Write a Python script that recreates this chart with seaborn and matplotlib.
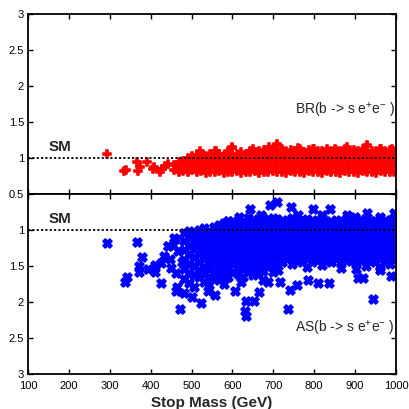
import pandas as pd
import matplotlib
matplotlib.use("Agg")
import matplotlib.pyplot as plt
import seaborn as sns

# SM reference value (ratio to SM)
sm_value = 1.0

# BR(b -> s e+ e-) / SM : isolated points at low stop mass
br_mass_sparse = [293, 335, 340, 366, 369, 374, 390, 406, 408, 423, 427, 435, 443,
                  520, 560, 600, 650, 690, 710, 760, 800, 850, 880, 929, 960, 990]
br_val_sparse = [1.06, 0.82, 0.83, 0.94, 0.82, 0.87, 0.94, 0.85, 0.88, 0.80, 0.85, 0.89, 0.91,
                 1.10, 1.09, 1.15, 1.13, 1.15, 1.19, 1.14, 1.13, 1.12, 1.15, 1.18, 1.13, 1.12]

# BR band, read column by column (mass -> values)
br_band_mass = [458, 468, 479, 490, 501, 512, 523, 534, 545, 556, 567, 578, 589, 600,
                611, 622, 633, 644, 655, 666, 677, 688, 699, 710, 721, 732, 743, 754,
                765, 776, 787, 798, 809, 820, 831, 842, 853, 864, 875, 886, 897, 908,
                919, 930, 941, 952, 963, 974, 985, 996]
br_band_vals = [
    [0.83, 0.90], [0.80, 0.87, 0.94], [0.82, 0.89, 0.96], [0.80, 0.86, 0.93, 1.00],
    [0.83, 0.89, 0.95, 1.02], [0.80, 0.86, 0.92, 0.98, 1.04], [0.82, 0.88, 0.94, 1.00, 1.06],
    [0.79, 0.85, 0.91, 0.97, 1.03], [0.81, 0.87, 0.93, 0.99, 1.05],
    [0.80, 0.86, 0.92, 0.98, 1.04, 1.09], [0.82, 0.88, 0.94, 1.00, 1.06],
    [0.79, 0.85, 0.91, 0.97, 1.03], [0.81, 0.87, 0.93, 0.99, 1.05, 1.10],
    [0.80, 0.86, 0.92, 0.98, 1.04, 1.14], [0.82, 0.88, 0.94, 1.00, 1.06],
    [0.79, 0.85, 0.91, 0.97, 1.03, 1.08], [0.81, 0.87, 0.93, 0.99, 1.05],
    [0.80, 0.86, 0.92, 0.98, 1.04, 1.10], [0.82, 0.88, 0.94, 1.00, 1.06],
    [0.79, 0.85, 0.91, 0.97, 1.03, 1.09], [0.81, 0.87, 0.93, 0.99, 1.05, 1.11],
    [0.80, 0.86, 0.92, 0.98, 1.04, 1.10], [0.82, 0.88, 0.94, 1.00, 1.06, 1.13],
    [0.80, 0.86, 0.92, 0.98, 1.04, 1.10, 1.18], [0.81, 0.87, 0.93, 0.99, 1.05, 1.12],
    [0.79, 0.85, 0.91, 0.97, 1.03, 1.09], [0.82, 0.88, 0.94, 1.00, 1.06, 1.11],
    [0.80, 0.86, 0.92, 0.98, 1.04, 1.10], [0.81, 0.87, 0.93, 0.99, 1.05, 1.13],
    [0.79, 0.85, 0.91, 0.97, 1.03, 1.08], [0.82, 0.88, 0.94, 1.00, 1.06, 1.11],
    [0.80, 0.86, 0.92, 0.98, 1.04, 1.12], [0.81, 0.87, 0.93, 0.99, 1.05, 1.10],
    [0.79, 0.85, 0.91, 0.97, 1.03, 1.09], [0.82, 0.88, 0.94, 1.00, 1.06, 1.12],
    [0.80, 0.86, 0.92, 0.98, 1.04, 1.10], [0.81, 0.87, 0.93, 0.99, 1.05, 1.11],
    [0.79, 0.85, 0.91, 0.97, 1.03, 1.09], [0.82, 0.88, 0.94, 1.00, 1.06, 1.13],
    [0.80, 0.86, 0.92, 0.98, 1.04, 1.10], [0.81, 0.87, 0.93, 0.99, 1.05, 1.11],
    [0.79, 0.85, 0.91, 0.97, 1.03, 1.09], [0.82, 0.88, 0.94, 1.00, 1.06, 1.12],
    [0.80, 0.86, 0.92, 0.98, 1.04, 1.10, 1.17], [0.81, 0.87, 0.93, 0.99, 1.05, 1.10],
    [0.79, 0.85, 0.91, 0.97, 1.03, 1.09], [0.82, 0.88, 0.94, 1.00, 1.06, 1.12],
    [0.80, 0.86, 0.92, 0.98, 1.04, 1.10], [0.81, 0.87, 0.93, 0.99, 1.05, 1.11],
    [0.80, 0.86, 0.92, 0.98, 1.04, 1.10],
]

# AS(b -> s e+ e-) / SM : outliers
as_mass_sparse = [293, 367, 378, 371, 370, 337, 341, 392, 410, 410, 425, 425, 433, 443, 455,
                  459, 449, 461, 464, 461, 472, 482, 502, 523, 558, 605, 634, 631, 632, 652,
                  666, 687, 716, 740, 757, 736, 711, 810, 836, 908, 920, 943, 961, 989, 785,
                  675, 441, 457, 447, 466, 476, 710, 691, 644, 744, 798, 838, 880, 929, 995,
                  617, 670, 589, 760, 820, 900, 960, 620, 580, 540]
as_val_sparse = [1.18, 1.17, 1.38, 1.50, 1.58, 1.72, 1.66, 1.55, 1.49, 1.59, 1.74, 1.46, 1.37,
                 1.22, 1.21, 1.13, 1.53, 1.60, 1.79, 1.85, 2.10, 1.88, 1.93, 2.02, 1.91, 1.85,
                 1.99, 2.13, 2.20, 1.99, 1.87, 1.72, 1.73, 1.83, 1.76, 2.10, 1.56, 1.74, 1.74,
                 1.67, 1.67, 1.96, 1.56, 1.64, 1.69, 1.69, 1.23, 1.12, 1.40, 1.30, 1.45, 0.61,
                 0.66, 0.71, 0.68, 0.71, 0.71, 0.79, 0.77, 0.76, 0.82, 0.79, 0.88, 0.80, 0.80,
                 0.82, 0.82, 1.72, 1.75, 1.85]

# AS band, column by column
as_band_mass = [482, 494, 506, 518, 530, 542, 554, 566, 578, 590, 602, 614, 626, 638, 650,
                662, 674, 686, 698, 710, 722, 734, 746, 758, 770, 782, 794, 806, 818, 830,
                842, 854, 866, 878, 890, 902, 914, 926, 938, 950, 962, 974, 986, 996]
as_band_vals = [
    [1.05, 1.15, 1.28, 1.42, 1.55, 1.68],
    [1.02, 1.12, 1.22, 1.33, 1.47, 1.60, 1.74],
    [1.04, 1.10, 1.19, 1.27, 1.38, 1.50, 1.63, 1.80],
    [1.00, 1.08, 1.16, 1.25, 1.34, 1.44, 1.56, 1.66],
    [0.98, 1.06, 1.14, 1.23, 1.31, 1.40, 1.52, 1.61, 1.72],
    [1.01, 1.09, 1.17, 1.26, 1.35, 1.45, 1.55, 1.66, 1.76],
    [0.96, 1.04, 1.12, 1.21, 1.29, 1.38, 1.47, 1.58, 1.68],
    [0.93, 1.01, 1.09, 1.17, 1.25, 1.33, 1.41, 1.50, 1.60, 1.70],
    [0.90, 0.98, 1.06, 1.14, 1.22, 1.30, 1.38, 1.47, 1.56, 1.64],
    [0.88, 0.96, 1.04, 1.12, 1.20, 1.28, 1.36, 1.45, 1.54, 1.66],
    [0.91, 0.99, 1.07, 1.15, 1.23, 1.31, 1.39, 1.48, 1.58],
    [0.86, 0.94, 1.02, 1.10, 1.18, 1.26, 1.34, 1.42, 1.51, 1.62],
    [0.89, 0.97, 1.05, 1.13, 1.21, 1.29, 1.37, 1.46, 1.55, 1.65],
    [0.84, 0.92, 1.00, 1.08, 1.16, 1.24, 1.32, 1.40, 1.49, 1.58],
    [0.87, 0.95, 1.03, 1.11, 1.19, 1.27, 1.35, 1.44, 1.53, 1.63],
    [0.85, 0.93, 1.01, 1.09, 1.17, 1.25, 1.33, 1.41, 1.50, 1.60],
    [0.83, 0.91, 0.99, 1.07, 1.15, 1.23, 1.31, 1.39, 1.48, 1.57],
    [0.86, 0.94, 1.02, 1.10, 1.18, 1.26, 1.34, 1.42, 1.52],
    [0.84, 0.92, 1.00, 1.08, 1.16, 1.24, 1.32, 1.40, 1.49, 1.58],
    [0.85, 0.93, 1.01, 1.09, 1.17, 1.25, 1.33, 1.42, 1.50],
    [0.88, 0.96, 1.04, 1.12, 1.20, 1.28, 1.36, 1.44],
    [0.86, 0.94, 1.02, 1.10, 1.18, 1.26, 1.34, 1.41],
    [0.84, 0.92, 1.00, 1.08, 1.16, 1.24, 1.32, 1.40, 1.48],
    [0.87, 0.95, 1.03, 1.11, 1.19, 1.27, 1.35, 1.43],
    [0.89, 0.97, 1.05, 1.13, 1.21, 1.29, 1.37, 1.45],
    [0.85, 0.93, 1.01, 1.09, 1.17, 1.25, 1.33, 1.41, 1.52],
    [0.88, 0.96, 1.04, 1.12, 1.20, 1.28, 1.36, 1.44],
    [0.86, 0.94, 1.02, 1.10, 1.18, 1.26, 1.34, 1.42],
    [0.84, 0.92, 1.00, 1.08, 1.16, 1.24, 1.32, 1.40, 1.49],
    [0.87, 0.95, 1.03, 1.11, 1.19, 1.27, 1.35, 1.43],
    [0.89, 0.97, 1.05, 1.13, 1.21, 1.29, 1.37, 1.44],
    [0.86, 0.94, 1.02, 1.10, 1.18, 1.26, 1.34, 1.41],
    [0.88, 0.96, 1.04, 1.12, 1.20, 1.28, 1.36, 1.45, 1.53],
    [0.85, 0.93, 1.01, 1.09, 1.17, 1.25, 1.33, 1.40],
    [0.87, 0.95, 1.03, 1.11, 1.19, 1.27, 1.35, 1.43],
    [0.89, 0.97, 1.05, 1.13, 1.21, 1.29, 1.37, 1.46, 1.55],
    [0.86, 0.94, 1.02, 1.10, 1.18, 1.26, 1.34, 1.42],
    [0.84, 0.92, 1.00, 1.08, 1.16, 1.24, 1.32, 1.40, 1.50],
    [0.88, 0.96, 1.04, 1.12, 1.20, 1.28, 1.36, 1.43],
    [0.87, 0.95, 1.03, 1.11, 1.19, 1.27, 1.35, 1.44],
    [0.85, 0.93, 1.01, 1.09, 1.17, 1.25, 1.33, 1.41, 1.52],
    [0.88, 0.96, 1.04, 1.12, 1.20, 1.28, 1.36, 1.45],
    [0.86, 0.94, 1.02, 1.10, 1.18, 1.26, 1.34, 1.42, 1.48],
    [0.85, 0.93, 1.01, 1.09, 1.17, 1.25, 1.33, 1.40],
]

mass_ticks = [100, 200, 300, 400, 500, 600, 700, 800, 900, 1000]
ratio_ticks = [0.5, 1, 1.5, 2, 2.5, 3]
ratio_labels = ['0.5', '1', '1.5', '2', '2.5', '3']


def to_frame(band_mass, band_vals, sparse_mass, sparse_vals):
    rows = [(m, v) for m, vals in zip(band_mass, band_vals) for v in vals]
    rows += list(zip(sparse_mass, sparse_vals))
    return pd.DataFrame(rows, columns=['mass', 'ratio'])


br = to_frame(br_band_mass, br_band_vals, br_mass_sparse, br_val_sparse)
asym = to_frame(as_band_mass, as_band_vals, as_mass_sparse, as_val_sparse)

sns.set_style('ticks')
fam = ['Liberation Sans Narrow', 'Liberation Sans', 'DejaVu Sans']
plt.rcParams['font.family'] = fam
plt.rcParams['mathtext.fontset'] = 'custom'
plt.rcParams['mathtext.rm'] = 'Liberation Sans'
plt.rcParams['mathtext.default'] = 'regular'

fig, (ax1, ax2) = plt.subplots(2, 1, figsize=(4.09, 4.09), dpi=100, sharex=True)
fig.subplots_adjust(left=0.069, right=0.968, top=0.966, bottom=0.086, hspace=0)

# fat markers, like the gnuplot points of the original
sns.scatterplot(data=br, x='mass', y='ratio', ax=ax1, marker='P', s=40,
                color='#ff0000', edgecolor='#ff0000', linewidth=1.2, legend=False)
sns.scatterplot(data=asym, x='mass', y='ratio', ax=ax2, marker='X', s=40,
                color='#0000ff', edgecolor='#0000ff', linewidth=1.3, legend=False)

for ax in (ax1, ax2):
    ax.axhline(sm_value, color='black', ls=(0, (1.2, 1.2)), lw=1.3, zorder=5)
    ax.set_xlim(100, 1000)
    ax.set_xticks(mass_ticks)
    ax.set_yticks(ratio_ticks)
    ax.set_yticklabels(ratio_labels)
    ax.tick_params(direction='in', length=3.5, width=1, top=True, right=True,
                   labelsize=8, colors='black')
    ax.tick_params(axis='x', pad=5)
    ax.tick_params(axis='y', pad=3)
    for sp in ax.spines.values():
        sp.set_linewidth(1.3)
        sp.set_color('black')
    ax.set_ylabel('')

ax1.set_ylim(0.5, 3)
ax2.set_ylim(3, 0.5)
ax1.set_xlabel('')
ax2.yaxis.get_major_ticks()[0].label1.set_visible(False)

ax2.set_xlabel('Stop Mass (GeV)', fontsize=11, fontweight='bold', labelpad=4)

ax1.text(150, 1.05, 'SM', fontsize=11, fontweight='bold', va='bottom', ha='left')
ax2.text(150, 0.95, 'SM', fontsize=11, fontweight='bold', va='bottom', ha='left')
ax1.text(754, 1.66, 'BR(b -> s e$^{+}$e$^{-}$ )', fontsize=10, va='center', ha='left')
ax2.text(752, 2.37, 'AS(b -> s e$^{+}$e$^{-}$ )', fontsize=10, va='center', ha='left')

fig.savefig('out.png', dpi=100)
